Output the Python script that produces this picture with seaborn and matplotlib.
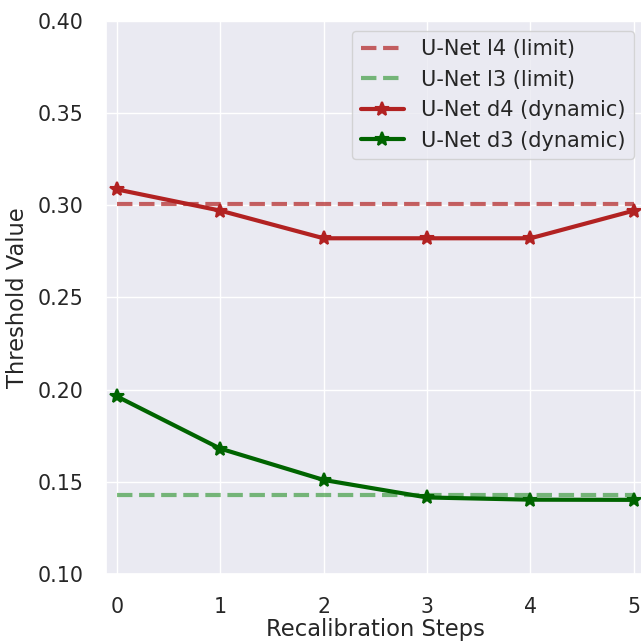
import numpy as np
import pandas as pd
import seaborn as sns
import matplotlib
matplotlib.use("Agg")
import matplotlib.pyplot as plt

steps = [0, 1, 2, 3, 4, 5]
unet_d4_dynamic = [0.3085, 0.2970, 0.2820, 0.2820, 0.2820, 0.2970]
unet_d3_dynamic = [0.1963, 0.1680, 0.1510, 0.1415, 0.1403, 0.1402]
unet_l4_limit = 0.3005
unet_l3_limit = 0.1428

x_label = "Recalibration Steps"
y_label = "Threshold Value"
y_ticks = [0.10, 0.15, 0.20, 0.25, 0.30, 0.35, 0.40]
x_ticks = [0, 1, 2, 3, 4, 5]

sns.set_theme(style="darkgrid")
plt.rcParams.update({
    "xtick.labelsize": 14.8,
    "ytick.labelsize": 14.8,
    "axes.labelsize": 16.3,
    "legend.fontsize": 15,
})

fig = plt.figure(figsize=(6.41, 6.42), dpi=100)
ax = fig.add_axes([0.1661, 0.1059, 0.8389, 0.862])

lim_df4 = pd.DataFrame({"x": steps, "y": [unet_l4_limit] * len(steps)})
lim_df3 = pd.DataFrame({"x": steps, "y": [unet_l3_limit] * len(steps)})
dyn4 = pd.DataFrame({"x": steps, "y": unet_d4_dynamic})
dyn3 = pd.DataFrame({"x": steps, "y": unet_d3_dynamic})

sns.lineplot(data=lim_df4, x="x", y="y", ax=ax, color="firebrick", alpha=0.7,
             linestyle="--", linewidth=3, label="U-Net l4 (limit)")
sns.lineplot(data=lim_df3, x="x", y="y", ax=ax, color="green", alpha=0.5,
             linestyle="--", linewidth=3, label="U-Net l3 (limit)")
sns.lineplot(data=dyn4, x="x", y="y", ax=ax, color="firebrick", linewidth=3,
             marker="*", markersize=10, markeredgewidth=1.5,
             markeredgecolor="firebrick", label="U-Net d4 (dynamic)")
sns.lineplot(data=dyn3, x="x", y="y", ax=ax, color="darkgreen", linewidth=3,
             marker="*", markersize=10, markeredgewidth=1.5,
             markeredgecolor="darkgreen", label="U-Net d3 (dynamic)")

ax.set_xlim(-0.1, 5.1)
ax.set_ylim(0.10, 0.40)
ax.set_xticks(x_ticks)
ax.set_yticks(y_ticks)
ax.set_yticklabels([f"{v:.2f}" for v in y_ticks])
ax.tick_params(axis="both", length=0, pad=16.5)
ax.set_xlabel(x_label, labelpad=1.0)
ax.set_ylabel(y_label, labelpad=6)
ax.legend(loc="upper right", handlelength=2.1)

fig.savefig("out.png", dpi=100)
